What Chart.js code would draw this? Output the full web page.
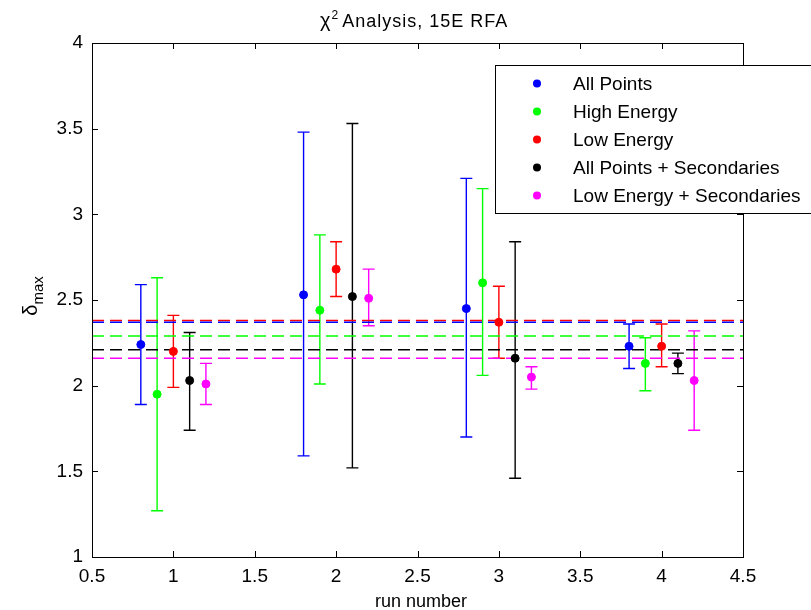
<!DOCTYPE html>
<html>
<head>
<meta charset="utf-8">
<script src="https://cdn.jsdelivr.net/npm/chart.js@4.4.1/dist/chart.umd.min.js"></script>
<style>
  html, body { margin: 0; padding: 0; background: #fff; }
  #wrap { width: 811px; height: 610px; }
</style>
</head>
<body>
<div id="wrap"><canvas id="myChart" width="811" height="610"></canvas></div>
<script>
// Dati (x = posizione, y = valore, lo/hi = estremi barre di errore)
var seriesNames = ["All Points", "High Energy", "Low Energy", "All Points + Secondaries", "Low Energy + Secondaries"];
var seriesColors = ["#0000ff", "#00ff00", "#ff0000", "#000000", "#ff00ff"];

var xAllPoints = [0.8, 1.8, 2.8, 3.8];
var yAllPoints = [2.24, 2.53, 2.45, 2.23];
var loAllPoints = [1.89, 1.59, 1.70, 2.10];
var hiAllPoints = [2.59, 3.48, 3.21, 2.36];

var xHighEnergy = [0.9, 1.9, 2.9, 3.9];
var yHighEnergy = [1.95, 2.44, 2.60, 2.13];
var loHighEnergy = [1.27, 2.01, 2.06, 1.97];
var hiHighEnergy = [2.63, 2.88, 3.15, 2.28];

var xLowEnergy = [1.0, 2.0, 3.0, 4.0];
var yLowEnergy = [2.20, 2.68, 2.37, 2.23];
var loLowEnergy = [1.99, 2.52, 2.16, 2.11];
var hiLowEnergy = [2.41, 2.84, 2.58, 2.36];

var xAllSec = [1.1, 2.1, 3.1, 4.1];
var yAllSec = [2.03, 2.52, 2.16, 2.13];
var loAllSec = [1.74, 1.52, 1.46, 2.07];
var hiAllSec = [2.31, 3.53, 2.84, 2.19];

var xLowSec = [1.2, 2.2, 3.2, 4.2];
var yLowSec = [2.01, 2.51, 2.05, 2.03];
var loLowSec = [1.89, 2.35, 1.98, 1.74];
var hiLowSec = [2.13, 2.68, 2.11, 2.32];

// Linee tratteggiate (media di ogni serie)
var meanValues = [2.37, 2.29, 2.38, 2.21, 2.16];

var xTicks = [0.5, 1, 1.5, 2, 2.5, 3, 3.5, 4, 4.5];
var yTicks = [1, 1.5, 2, 2.5, 3, 3.5, 4];

var allX = [xAllPoints, xHighEnergy, xLowEnergy, xAllSec, xLowSec];
var allY = [yAllPoints, yHighEnergy, yLowEnergy, yAllSec, yLowSec];
var allLo = [loAllPoints, loHighEnergy, loLowEnergy, loAllSec, loLowSec];
var allHi = [hiAllPoints, hiHighEnergy, hiLowEnergy, hiAllSec, hiLowSec];

var textFont = "'Liberation Sans', Arial, sans-serif";

var datasets = [];
// linee tratteggiate
meanValues.forEach(function (v, i) {
  datasets.push({
    type: "line",
    data: [{ x: xTicks[0], y: v }, { x: xTicks[xTicks.length - 1], y: v }],
    borderColor: seriesColors[i],
    borderWidth: 1.6,
    borderDash: [12, 6],
    pointRadius: 0,
    fill: false,
    order: 10
  });
});
// punti con barre di errore
seriesNames.forEach(function (name, i) {
  datasets.push({
    type: "scatter",
    label: name,
    data: allX[i].map(function (x, j) { return { x: x, y: allY[i][j] }; }),
    errLo: allLo[i],
    errHi: allHi[i],
    backgroundColor: seriesColors[i],
    borderColor: seriesColors[i],
    pointRadius: 4,
    pointHoverRadius: 4,
    order: 1
  });
});

// Plugin per barre di errore, bordo, tick interni, titolo, etichette e legenda
var matlabPlugin = {
  id: "matlab",
  beforeDatasetsDraw: function (chart) {
    var ctx = chart.ctx;
    var xs = chart.scales.x, ys = chart.scales.y;
    ctx.save();
    chart.data.datasets.forEach(function (ds) {
      if (!ds.errLo) return;
      ctx.strokeStyle = ds.borderColor;
      ctx.lineWidth = 1.4;
      ds.data.forEach(function (p, j) {
        var px = xs.getPixelForValue(p.x);
        var y1 = ys.getPixelForValue(ds.errLo[j]);
        var y2 = ys.getPixelForValue(ds.errHi[j]);
        ctx.beginPath();
        ctx.moveTo(px, y1); ctx.lineTo(px, y2);
        ctx.moveTo(px - 6, y1); ctx.lineTo(px + 6, y1);
        ctx.moveTo(px - 6, y2); ctx.lineTo(px + 6, y2);
        ctx.stroke();
      });
    });
    ctx.restore();
  },
  afterDraw: function (chart) {
    var ctx = chart.ctx;
    var a = chart.chartArea;
    var xs = chart.scales.x, ys = chart.scales.y;
    ctx.save();
    // bordo
    ctx.strokeStyle = "#000";
    ctx.lineWidth = 1;
    ctx.strokeRect(Math.round(a.left) + 0.5, Math.round(a.top) + 0.5, Math.round(a.right - a.left), Math.round(a.bottom - a.top));
    // tick interni
    ctx.beginPath();
    xTicks.forEach(function (t) {
      var px = Math.round(xs.getPixelForValue(t)) + 0.5;
      ctx.moveTo(px, a.bottom); ctx.lineTo(px, a.bottom - 6);
      ctx.moveTo(px, a.top); ctx.lineTo(px, a.top + 6);
    });
    yTicks.forEach(function (t) {
      var py = Math.round(ys.getPixelForValue(t)) + 0.5;
      ctx.moveTo(a.left, py); ctx.lineTo(a.left + 6, py);
      ctx.moveTo(a.right, py); ctx.lineTo(a.right - 6, py);
    });
    ctx.stroke();

    // titolo: chi al quadrato + testo
    ctx.fillStyle = "#000";
    ctx.textBaseline = "alphabetic";
    ctx.textAlign = "left";
    ctx.font = "20px " + textFont;
    var wChi = ctx.measureText("\u03c7").width;
    ctx.fillText("\u03c7", 320, 27);
    ctx.font = "12px " + textFont;
    var w2 = ctx.measureText("2").width;
    ctx.fillText("2", 320 + wChi + 1, 19);
    ctx.letterSpacing = "1px";
    ctx.font = "18px " + textFont;
    ctx.fillText("Analysis, 15E RFA", 320 + wChi + w2 + 5, 27);
    ctx.letterSpacing = "0px";

    // etichetta asse x
    ctx.textAlign = "center";
    ctx.font = "18px " + textFont;
    ctx.fillText("run number", 421, 607);

    // etichetta asse y
    ctx.save();
    ctx.translate(37, 296);
    ctx.rotate(-Math.PI / 2);
    ctx.textAlign = "left";
    ctx.font = "20px " + textFont;
    var wd = ctx.measureText("\u03b4").width;
    ctx.font = "15px " + textFont;
    var wm = ctx.measureText("max").width;
    var lx = -(wd + wm) / 2;
    ctx.font = "20px " + textFont;
    ctx.fillText("\u03b4", lx, 0);
    ctx.font = "15px " + textFont;
    ctx.fillText("max", lx + wd, 6);
    ctx.restore();

    // legenda
    var lx0 = 495, ly0 = 65, lw = 320, lh = 148;
    ctx.fillStyle = "#fff";
    ctx.fillRect(lx0, ly0, lw, lh);
    ctx.strokeStyle = "#000";
    ctx.lineWidth = 1;
    ctx.strokeRect(lx0 + 0.5, ly0 + 0.5, lw, lh);
    ctx.font = "19px " + textFont;
    ctx.textAlign = "left";
    ctx.textBaseline = "middle";
    seriesNames.forEach(function (name, i) {
      var ry = 83.5 + i * 28;
      ctx.fillStyle = seriesColors[i];
      ctx.beginPath();
      ctx.arc(537, ry, 4, 0, Math.PI * 2);
      ctx.fill();
      ctx.fillStyle = "#000";
      ctx.fillText(name, 573, ry + 1);
    });
    ctx.restore();
  }
};

new Chart("myChart", {
  data: { datasets: datasets },
  options: {
    responsive: false,
    animation: false,
    layout: { padding: { left: 0, right: 68, top: 43, bottom: 0 } },
    plugins: {
      legend: { display: false },
      title: { display: false },
      tooltip: { enabled: false }
    },
    scales: {
      x: {
        type: "linear",
        min: 0.5,
        max: 4.5,
        afterFit: function (scale) { scale.height = 53; },
        afterBuildTicks: function (scale) { scale.ticks = xTicks.map(function (v) { return { value: v }; }); },
        grid: { display: false, drawTicks: false },
        border: { display: false },
        ticks: {
          color: "#000", font: { family: textFont, size: 19 }, padding: 8, maxRotation: 0, autoSkip: false,
          callback: function (v) { return String(v); }
        }
      },
      y: {
        type: "linear",
        min: 1,
        max: 4,
        afterFit: function (scale) { scale.width = 92; },
        afterBuildTicks: function (scale) { scale.ticks = yTicks.map(function (v) { return { value: v }; }); },
        grid: { display: false, drawTicks: false },
        border: { display: false },
        ticks: {
          color: "#000", font: { family: textFont, size: 19 }, padding: 9,
          callback: function (v) { return String(v); }
        }
      }
    }
  },
  plugins: [matlabPlugin]
});
</script>
</body>
</html>
